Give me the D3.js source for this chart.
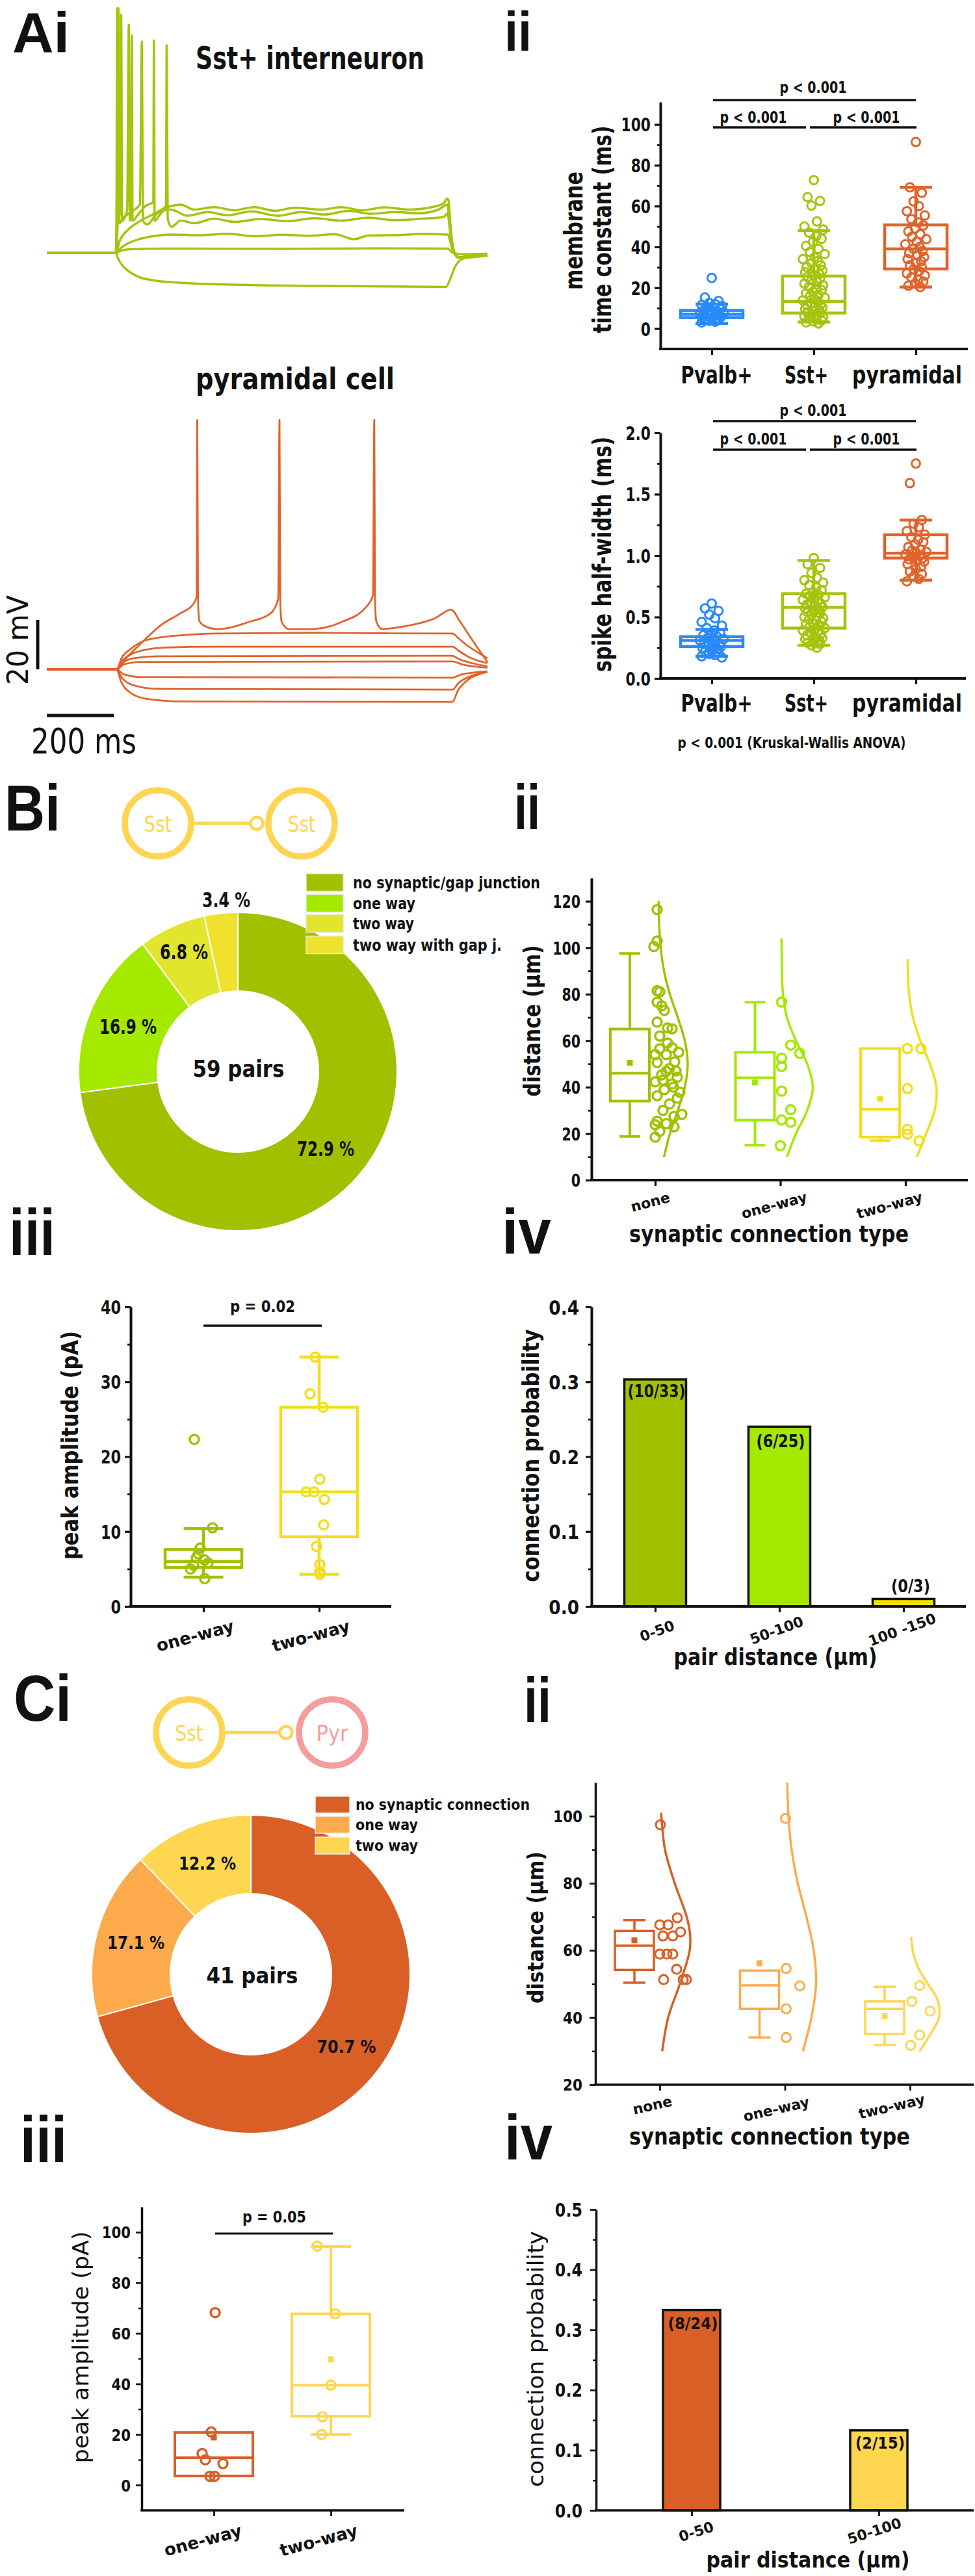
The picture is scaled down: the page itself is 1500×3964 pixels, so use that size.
<!DOCTYPE html>
<html><head><meta charset="utf-8"><title>Figure</title>
<script src="https://cdn.jsdelivr.net/npm/d3@7/dist/d3.min.js"></script>
<style>html,body{margin:0;padding:0;background:#fff}svg{display:block}</style>
</head><body>
<svg id="fig" width="1500" height="3964" xmlns="http://www.w3.org/2000/svg"></svg>
<script>
// ======================= DATA =======================
// Ai : voltage traces, [time (ms), Vm (mV)]
const sstTraces = [
 [[0,-70],[206,-70],[212,-72],[222,-74.5],[240,-77],[270,-79.5],[320,-81.2],[420,-82.3],[600,-83],[900,-83.5],[1192,-83.8],[1205,-80.5],[1218,-76],[1235,-73],[1260,-71.8],[1316,-71.2]],
 [[0,-70],[206,-70],[225,-69],[260,-68.5],[400,-68.3],[700,-68.4],[1000,-68.2],[1198,-68.3],[1210,-69.8],[1240,-70.6],[1316,-70.4]],
 [[0,-70],[206,-70],[222,-68],[245,-66],[275,-64.5],[320,-63.2],[380,-62.6],[450,-62.9],[540,-62.3],[620,-63.3],[700,-62.7],[780,-63.1],[860,-62.5],[918,-64.5],[960,-63],[1050,-62.8],[1120,-62.4],[1198,-62.6],[1206,-66],[1215,-70],[1232,-71.8],[1260,-71.2],[1316,-70.8]],
 [[0,-70],[206,-70],[218,-65],[240,-61],[280,-57],[330,-53.5],[356,-51],[358,14],[361,-56],[372,-59.5],[400,-57],[440,-58],[500,-56.2],[560,-57.5],[640,-56.3],[720,-57.2],[800,-56],[880,-57],[960,-55.8],[1040,-56.8],[1120,-56.2],[1185,-55.5],[1197,-54],[1203,-60],[1212,-68],[1230,-72],[1260,-71.5],[1316,-71]],
 [[0,-70],[206,-70],[212,-56],[214,29],[217,-58],[228,-56],[250,-53.5],[278,-50.5],[284,15.5],[287,-57],[300,-58.5],[330,-54],[370,-52.5],[420,-55],[480,-53.5],[540,-54.8],[610,-53.2],[690,-55],[760,-53.5],[830,-54.5],[900,-53],[970,-54.2],[1040,-53.5],[1110,-54],[1170,-52.5],[1196,-50.5],[1202,-57],[1210,-66],[1225,-71.5],[1250,-72],[1316,-71]],
 [[0,-70],[206,-70],[208,-56],[210,29],[212,-57],[219,-53],[222,26.5],[225,-57],[240,-52.5],[245,22.4],[248,-57],[252,-53],[254,18],[256,-57],[270,-55],[295,-51],[318,-49.5],[320,16],[322,-57],[335,-55],[360,-51.5],[400,-50.5],[440,-52.5],[500,-51.5],[560,-52.8],[620,-51.5],[680,-53],[740,-51.8],[820,-52.5],[880,-51.5],[940,-52.8],[1010,-51.6],[1080,-52.5],[1150,-51.5],[1185,-50],[1196,-48],[1200,-49],[1205,-58],[1212,-67],[1228,-72],[1255,-71.8],[1316,-71]]
];
const pyrTraces = [
 [[0,-70],[208,-70],[240,-65],[277.6,-60],[343.6,-51.8],[397.9,-47.4],[436.7,-43.7],[447.5,-40.5],[449.3,31],[451.5,-40],[453,-47],[456,-50.5],[473.6,-52.6],[510.5,-53.7],[603.6,-50.8],[667.7,-47.4],[691,-41.6],[694.9,31],[697,-40],[698.5,-47],[701.5,-50.8],[724,-53.7],[788,-53.7],[881,-50.8],[955,-44.5],[974,-40],[978,31],[980,-40],[981.5,-47],[984.5,-50.8],[1001.6,-53.7],[1067.5,-52.6],[1160.7,-49.2],[1207,-45.8],[1234.5,-50.8],[1271,-58.2],[1316,-67.1]],
 [[0,-70],[208,-70],[225,-65],[250,-61.8],[290,-58.5],[324,-57.4],[400,-56.2],[510,-55.5],[800,-55.2],[1000,-55.4],[1211,-55.5],[1230,-57.5],[1252,-60],[1285,-63],[1316,-65.5]],
 [[0,-70],[208,-70],[225,-66.5],[250,-64],[290,-62.2],[350,-61.2],[500,-60.8],[1211,-60.8],[1230,-62.5],[1260,-65],[1316,-67.5]],
 [[0,-70],[208,-70],[225,-67.5],[260,-65.5],[330,-64.7],[1211,-64.5],[1230,-65.8],[1270,-67.5],[1316,-68.8]],
 [[0,-70],[208,-70],[230,-68],[280,-67],[1211,-66.8],[1240,-68],[1316,-69.3]],
 [[0,-70],[208,-70],[230,-72],[280,-73.1],[1211,-73.4],[1240,-72],[1316,-70.8]],
 [[0,-70],[208,-70],[225,-73.5],[260,-76.5],[330,-77.9],[1211,-78.2],[1230,-75.5],[1270,-72.5],[1316,-71]],
 [[0,-70],[208,-70],[222,-75],[250,-79.5],[300,-82],[400,-83],[1211,-83.2],[1228,-78.5],[1255,-74.5],[1290,-72],[1316,-71]]
];

// Aii : membrane time constant (ms) and spike half-width (ms)
const cellTypes = ["Pvalb+","Sst+","pyramidal"];
const tauPvalb = [24.8,15.2,13.5,12.5,12,11.5,11,10.5,10,9.6,9.2,8.8,8.5,8.2,8,7.7,7.4,7.1,6.8,6.5,6.2,6,5.7,5.4,5.1,4.8,4.5,4.2,3.8,3.4,3];
const tauSst = [72.7,64.4,62.5,60.3,52.5,50,48.5,47,45.2,44,42.5,40.5,39,37.5,36.5,35,34,33,32,31,30.2,29.4,28.5,27.6,26.8,26,25.2,24.4,23.6,22.8,22,21.2,20.4,19.6,18.8,18,17.2,16.5,15.8,15.1,14.4,13.8,13.2,12.6,12,11.4,10.8,10.2,9.6,9,8.5,8,7.5,7,6.5,6,5.5,5,4.5,4,3.5,3,2.5];
const tauPyr = [91.4,69.2,66.5,62.3,60,57.5,55.4,53.6,52,50.5,49,47.6,46.2,45,43.8,42.5,41.3,40,39,38,37,36,35,34,33,32,31,30,29,28,27,26,25,24,23,22,21,20.3];
const tauBoxes = [{q1:5.4,med:7,q3:8.9,lo:2.5,hi:12},{q1:7.6,med:13.3,q3:25.7,lo:3.2,hi:48},{q1:29.2,med:39,q3:50.8,lo:20.3,hi:69.2}];
const tauTicks = [0,20,40,60,80,100];
const hwPvalb = [0.61,0.57,0.55,0.52,0.49,0.46,0.43,0.41,0.39,0.37,0.36,0.35,0.34,0.33,0.32,0.31,0.31,0.3,0.29,0.28,0.28,0.27,0.26,0.25,0.24,0.23,0.22,0.21,0.2,0.19,0.18,0.17];
const hwSst = [0.98,0.93,0.9,0.86,0.82,0.8,0.78,0.76,0.74,0.72,0.7,0.69,0.68,0.67,0.66,0.65,0.64,0.63,0.62,0.61,0.6,0.59,0.58,0.57,0.56,0.55,0.54,0.53,0.52,0.51,0.5,0.49,0.48,0.47,0.46,0.45,0.44,0.43,0.42,0.41,0.4,0.39,0.38,0.37,0.36,0.35,0.34,0.33,0.32,0.31,0.3,0.29,0.28,0.27,0.25];
const hwPyr = [1.75,1.59,1.29,1.26,1.23,1.2,1.17,1.15,1.13,1.11,1.09,1.07,1.05,1.04,1.03,1.02,1.01,1.0,0.99,0.98,0.97,0.96,0.95,0.93,0.91,0.89,0.87,0.85,0.83,0.81,0.79];
const hwBoxes = [{q1:0.26,med:0.31,q3:0.34,lo:0.18,hi:0.40},{q1:0.41,med:0.58,q3:0.69,lo:0.27,hi:0.96},{q1:0.98,med:1.02,q3:1.17,lo:0.80,hi:1.29}];
const hwTicks = [0,0.5,1,1.5,2];

// Bi : Sst-Sst pairs (%)
const ssPairLabels = ["no synaptic/gap junction","one way","two way","two way with gap j."];
const ssPairPct = [72.9,16.9,6.8,3.4];
const ssPairText = ["72.9 %","16.9 %","6.8 %","3.4 %"];

// Bii : pair distance (µm) by connection type
const connTypes = ["none","one-way","two-way"];
const ssDistNone = [116.4,102.9,100.5,81.5,81,76.6,75,73,68,65.5,65.1,62,59,57,56.5,54,54,50.6,50.9,48,46.8,45.3,44.3,43,42.3,41.4,40,38.9,37.8,36.3,35.3,32.8,30,28.3,27.4,25.4,24.3,23.8,22.9,21,18.5,47,55];
const ssDistOne = [76.6,58.1,54.5,52.5,48.9,38.3,30.3,25.9,24.9,14.8];
const ssDistTwo = [56.6,56.6,39.4,21.8,19.8,16.9];
const ssDistBoxes = [{q1:34,med:46,q3:65,mean:50.5,lo:18.8,hi:97.5},{q1:25.8,med:44,q3:55,mean:42,lo:15,hi:76.5},{q1:18.5,med:30.5,q3:56.6,mean:35,lo:17,hi:56.6}];
// distribution outline: [distance, relative density]
const ssDistCurves = [
 [[10,.19],[20,.39],[30,.66],[40,.90],[50,1],[60,.90],[70,.66],[80,.39],[90,.19],[100,.076],[110,.024],[120,.006]],
 [[10,.17],[20,.46],[30,.82],[40,1],[50,.82],[60,.46],[70,.17],[80,.044],[90,.008],[104,0]],
 [[10,.325],[20,.64],[30,.93],[40,.99],[50,.77],[60,.44],[70,.19],[80,.058],[95,.006]]
];
const distTicksB = [0,20,40,60,80,100,120];

// Biii : peak amplitude (pA)
const ampTypes = ["one-way","two-way"];
const ssAmpOne = [22.3,10.5,7.8,7.0,6.5,6.2,5.8,5.5,5.0,3.7];
const ssAmpTwo = [33.3,28.4,26.6,17,15.3,15.3,14.3,10.9,8.0,5.6,4.6,4.3];
const ssAmpBoxes = [{q1:5.2,med:6.0,q3:7.6,lo:3.9,hi:10.4},{q1:9.3,med:15.3,q3:26.6,lo:4.3,hi:33.3}];
const ampTicksB = [0,10,20,30,40];

// Biv : connection probability by pair distance
const ssBins = ["0-50","50-100","100 -150"];
const ssProb = [0.303,0.24,0.01];
const ssCounts = ["(10/33)","(6/25)","(0/3)"];
const probTicksB = [0,0.1,0.2,0.3,0.4];

// Ci : Sst-Pyr pairs (%)
const spPairLabels = ["no synaptic connection","one way","two way"];
const spPairPct = [70.7,17.1,12.2];
const spPairText = ["70.7 %","17.1 %","12.2 %"];

// Cii : pair distance (µm)
const spDistNone = [69.7,67.6,67.6,65.5,64.3,64.3,58.9,58.9,58.9,54.4,51.3,51.3,51.3,97.4];
const spDistOne = [54.6,49.4,42.6,34.1,99.3];
const spDistTwo = [49.5,44.8,41.9,34.8,31.7];
const spDistBoxes = [{q1:54.2,med:61.4,q3:65.8,mean:63,lo:50.4,hi:69},{q1:42.6,med:49.6,q3:54,mean:56.2,lo:34.1,hi:54},{q1:35.1,med:42.6,q3:44.8,mean:40.4,lo:31.8,hi:49.2}];
const spDistCurves = [
 [[30,.062],[40,.26],[50,.65],[60,.98],[65,.99],[70,.88],[80,.48],[90,.155],[101,.025]],
 [[30,.55],[40,.84],[50,1],[60,.92],[70,.67],[80,.375],[90,.164],[100,.056],[110,.015]],
 [[30,.31],[35,.67],[40,.97],[45,.93],[50,.59],[55,.25],[60,.07],[64,.02]]
];
const distTicksC = [20,40,60,80,100];

// Ciii : peak amplitude (pA)
const spAmpOne = [68.2,21,12.5,10,8.5,3.5,3.5];
const spAmpTwo = [94.5,67.7,39.5,27,20];
const spAmpBoxes = [{q1:3.6,med:10.8,q3:20.8,mean:18.8,lo:3.6,hi:20.8},{q1:27.2,med:39.5,q3:67.7,mean:49.7,lo:20,hi:94.3}];
const ampTicksC = [0,20,40,60,80,100];

// Civ : connection probability
const spBins = ["0-50","50-100"];
const spProb = [0.333,0.133];
const spCounts = ["(8/24)","(2/15)"];
const probTicksC = [0,0.1,0.2,0.3,0.4,0.5];

// ======================= STYLE / LAYOUT =======================
const INK = "#111";
const FONT = "'DejaVu Sans', Verdana, sans-serif";
const FLET = "'Liberation Sans', Arial, Helvetica, sans-serif";
const COL = {
  sst:"#a6c30e", pyr:"#e0632b", pv:"#2a89fb",
  gNone:"#a3c000", gOne:"#a5e800", gTwo:"#f1df1c", gTwoPie:"#e1e52b", gGap:"#f0e12f", gBar3:"#f1e000",
  oNone:"#d95f27", oOne:"#fdaa4c", oTwo:"#fed64f",
  schY:"#fdd552", schP:"#f59c9c"
};
const jitA = [0,-8,8,-3,4,-12,12,-6,3,10,-1,-10,6,-5,14,1,-14,5,-3,9,-9,2,11,-11,7];
const offBNone = [3,3,-2,3,7,3,10,14,3,19,26,7,19,26,7,17,0,3,30,22,17,10,34,12,0,26,28,14,38,3,34,22,12,41,29,3,17,0,29,7,0,32,36];
const offBOne = [2,16,30,2,2,2,16,2,16,0];
const offBTwo = [3,24,3,3,3,21];
const offBiiiOne = [-14,14,-5,-8,-11,2,7,-15,-20,2];
const offBiiiTwo = [-6,-14,6,1,-20,-8,8,7,-4,1,1,1];
const offCNone = [27,0,13,32,5,20,0,11,20,26,6,36,41,1];
const offCOne = [2,23,2,2,1];
const offCTwo = [15,3,31,15,1];
const offCiiiOne = [2,-4,-18,-13,14,-6,1];
const offCiiiTwo = [-21,7,0,-13,-14];

// ======================= HELPERS =======================
const svg = d3.select("#fig");
svg.append("rect").attr("width",1500).attr("height",3964).attr("fill","#fff");

function squeeze(sel, k){
  if (!k || k===1) return;
  sel.each(function(){ const L=this.getComputedTextLength(); this.setAttribute("textLength", L*k); this.setAttribute("lengthAdjust","spacingAndGlyphs"); });
}
function T(s, x, y, size, o={}){
  const t = svg.append("text").attr("x",x).attr("y",y).text(s)
    .attr("font-family", o.f||FONT).attr("font-size", size).attr("font-weight", o.w||700)
    .attr("fill", o.c||INK).attr("text-anchor", o.a||"middle");
  if (o.rot) t.attr("transform", `rotate(${o.rot},${x},${y})`);
  if (o.len) t.attr("textLength", o.len).attr("lengthAdjust","spacingAndGlyphs");
  else if (o.k) squeeze(t, o.k);
  return t;
}
function seg(x1,y1,x2,y2,sw,c){
  return svg.append("line").attr("x1",x1).attr("y1",y1).attr("x2",x2).attr("y2",y2)
    .attr("stroke",c||INK).attr("stroke-width",sw);
}
function yAxis(scale, x, major, minor, fmt, o){
  const g = svg.append("g").attr("transform",`translate(${x},0)`)
    .call(d3.axisLeft(scale).tickValues(major).tickFormat(fmt).tickSizeInner(o.tl||9).tickSizeOuter(0).tickPadding(0));
  g.select(".domain").attr("stroke",INK).attr("stroke-width",o.sw);
  g.selectAll(".tick line").attr("stroke",INK).attr("stroke-width",o.sw*0.8);
  const tx = g.selectAll(".tick text").attr("x",-o.gap).attr("dy","0.36em")
    .attr("font-family",FONT).attr("font-size",o.fs).attr("font-weight",700).attr("fill",INK);
  squeeze(tx, o.k);
  if (minor){
    const m = svg.append("g").attr("transform",`translate(${x},0)`)
      .call(d3.axisLeft(scale).tickValues(minor).tickFormat("").tickSizeInner(5).tickSizeOuter(0));
    m.select(".domain").remove();
    m.selectAll(".tick line").attr("stroke",INK).attr("stroke-width",o.sw*0.7);
  }
}
function xAxis(scale, y, x0, x1, o){
  seg(x0-o.sw/2, y, x1, y, o.sw);
  const g = svg.append("g").attr("transform",`translate(0,${y})`)
    .call(d3.axisBottom(scale).tickSizeInner(o.tl||9).tickSizeOuter(0).tickPadding(0));
  g.select(".domain").remove();
  g.selectAll(".tick line").attr("stroke",INK).attr("stroke-width",o.sw*0.8);
  const tx = g.selectAll(".tick text").attr("y",0).attr("dy",0).attr("text-anchor","middle")
    .attr("font-family",FONT).attr("font-size",o.fs).attr("font-weight",700).attr("fill",INK);
  if (o.lens){
    // condense each label to its measured width with a horizontal scale
    tx.each(function(d,i){
      const k = o.lens[i]/this.getComputedTextLength();
      this.setAttribute("transform",`translate(${o.off[i][0]},${o.off[i][1]}) rotate(${o.rot||0}) scale(${k},1)`);
    });
  } else {
    tx.attr("transform",(d,i)=>`translate(${o.off[i][0]},${o.off[i][1]}) rotate(${o.rot||0})`);
    squeeze(tx, o.k);
  }
}
function box(cx, st, y, o){
  const g = svg.append("g").attr("fill","none").attr("stroke",o.c).attr("stroke-width",o.sw);
  if (st.hi > st.q3){
    g.append("line").attr("x1",cx).attr("x2",cx).attr("y1",y(st.q3)).attr("y2",y(st.hi));
    g.append("line").attr("x1",cx-o.cap/2).attr("x2",cx+o.cap/2).attr("y1",y(st.hi)).attr("y2",y(st.hi));
  }
  if (st.lo < st.q1){
    g.append("line").attr("x1",cx).attr("x2",cx).attr("y1",y(st.q1)).attr("y2",y(st.lo));
    g.append("line").attr("x1",cx-o.cap/2).attr("x2",cx+o.cap/2).attr("y1",y(st.lo)).attr("y2",y(st.lo));
  }
  g.append("rect").attr("x",cx-o.w/2).attr("y",y(st.q3)).attr("width",o.w).attr("height",y(st.q1)-y(st.q3));
  g.append("line").attr("x1",cx-o.w/2).attr("x2",cx+o.w/2).attr("y1",y(st.med)).attr("y2",y(st.med));
  if (st.mean!=null && o.ms){
    svg.append("rect").attr("x",cx-o.ms/2).attr("y",y(st.mean)-o.ms/2).attr("width",o.ms).attr("height",o.ms).attr("fill",o.c);
  }
}
function pts(cx, vals, offs, sc, y, o){
  svg.append("g").selectAll("circle").data(vals).join("circle")
    .attr("cx",(d,i)=>cx+offs[i%offs.length]*sc).attr("cy",d=>y(d)).attr("r",o.r)
    .attr("fill","none").attr("stroke",o.c).attr("stroke-width",o.sw);
}
function halfCurve(cx, data, w, y, o){
  svg.append("path").datum(data)
    .attr("d", d3.line().x(d=>cx+o.base+d[1]*w).y(d=>y(d[0])).curve(d3.curveCatmullRom))
    .attr("fill","none").attr("stroke",o.c).attr("stroke-width",o.sw);
}
function donut(cx, cy, vals, colors){
  const arcs = d3.pie().sort(null)(vals);
  const arc = d3.arc().innerRadius(124).outerRadius(245);
  svg.append("g").attr("transform",`translate(${cx},${cy})`).selectAll("path").data(arcs).join("path")
    .attr("d",arc).attr("fill",(d,i)=>colors[i]).attr("stroke","#fff").attr("stroke-width",2);
}
function schematic(x1, x2, y, c1, c2, l1, l2, lx0, lx1, rx, w1, w2){
  svg.append("circle").attr("cx",x1).attr("cy",y).attr("r",51).attr("fill","none").attr("stroke",c1).attr("stroke-width",9.5);
  svg.append("circle").attr("cx",x2).attr("cy",y).attr("r",51).attr("fill","none").attr("stroke",c2).attr("stroke-width",9.5);
  seg(lx0, y, lx1, y, 5, COL.schY);
  svg.append("circle").attr("cx",rx).attr("cy",y).attr("r",9.5).attr("fill","#fff").attr("stroke",COL.schY).attr("stroke-width",4.5);
  T(l1, x1, y+13, 33, {c:c1, w:400, len:w1});
  T(l2, x2, y+13, 33, {c:c2, w:400, len:w2});
}

// ======================= Ai =======================
T("Ai", 19, 80, 88, {f:FLET, a:"start"});
const xT = d3.scaleLinear().domain([0,1316]).range([72,750]);
const ySst = d3.scaleLinear().domain([-70,30]).range([389,9]);
const yPyr = d3.scaleLinear().domain([-70,30]).range([1030,650]);
svg.append("g").selectAll("path").data(sstTraces).join("path")
  .attr("d", d3.line().x(d=>xT(d[0])).y(d=>ySst(d[1])).curve(d3.curveMonotoneX))
  .attr("fill","none").attr("stroke",COL.sst).attr("stroke-width",3.5).attr("stroke-linejoin","round");
svg.append("g").selectAll("path").data(pyrTraces).join("path")
  .attr("d", d3.line().x(d=>xT(d[0])).y(d=>yPyr(d[1])).curve(d3.curveMonotoneX))
  .attr("fill","none").attr("stroke",COL.pyr).attr("stroke-width",2.8).attr("stroke-linejoin","round");
T("Sst+ interneuron", 301, 106, 48, {a:"start", len:352});
T("pyramidal cell", 301, 599, 46, {a:"start", len:306});
seg(58, yPyr(-70), 58, yPyr(-50), 5);
T("20 mV", 43, 985, 44, {rot:-90, len:138, w:400});
seg(xT(0), 1101, xT(200), 1101, 5);
T("200 ms", 129, 1159, 54, {len:162, w:400});

// ======================= Aii =======================
T("ii", 776, 78, 86, {f:FLET, a:"start", len:42});
const xA = d3.scalePoint().domain(cellTypes).range([1095,1409]);
const aColors = [COL.pv, COL.sst, COL.pyr];
const aJit = [1.3,1.2,1.15];
const aLabOff = (dy)=>[[7,dy],[-12,dy],[-14,dy]];
// time constant
const yTau = d3.scaleLinear().domain([-10,111]).range([537,157]);
yAxis(yTau, 1016, tauTicks, [10,30,50,70,90], d3.format("d"), {sw:4, fs:29, k:0.75, gap:15});
xAxis(xA, 537, 1016, 1489, {sw:4, fs:38, lens:[110,67,169], off:aLabOff(53)});
[tauPvalb, tauSst, tauPyr].forEach((vals,i)=>{
  box(xA(cellTypes[i]), tauBoxes[i], yTau, {c:aColors[i], sw:4.5, w:96, cap:50});
  pts(xA(cellTypes[i]), vals, jitA, aJit[i], yTau, {c:aColors[i], r:6.5, sw:3});
});
seg(1097,154,1409,154,3.5); seg(1097,196,1240,196,3.5); seg(1246,196,1410,196,3.5);
T("p < 0.001", 1251, 143, 25, {len:103});
T("p < 0.001", 1159, 189, 25, {len:103});
T("p < 0.001", 1333, 189, 25, {len:103});
T("membrane", 896, 355, 39, {rot:-90, len:182});
T("time constant (ms)", 940, 353, 39, {rot:-90, len:319});
// spike half-width
const yHw = d3.scaleLinear().domain([0,2]).range([1044,666]);
yAxis(yHw, 1016, hwTicks, [0.25,0.75,1.25,1.75], d3.format(".1f"), {sw:4, fs:29, k:0.75, gap:15});
xAxis(xA, 1044, 1016, 1486, {sw:4, fs:38, lens:[110,67,169], off:aLabOff(51)});
[hwPvalb, hwSst, hwPyr].forEach((vals,i)=>{
  box(xA(cellTypes[i]), hwBoxes[i], yHw, {c:aColors[i], sw:4.5, w:96, cap:50});
  pts(xA(cellTypes[i]), vals, jitA, aJit[i], yHw, {c:aColors[i], r:6.5, sw:3});
});
seg(1097,648,1409,648,3.5); seg(1097,692,1240,692,3.5); seg(1246,692,1410,692,3.5);
T("p < 0.001", 1251, 640, 25, {len:103});
T("p < 0.001", 1159, 684, 25, {len:103});
T("p < 0.001", 1333, 684, 25, {len:103});
T("spike half-width (ms)", 940, 853, 39, {rot:-90, len:362});
T("p < 0.001 (Kruskal-Wallis ANOVA)", 1218, 1151, 23, {len:351});

// ======================= Bi =======================
T("Bi", 7, 1278, 100, {f:FLET, a:"start", len:86});
schematic(243, 464, 1267, COL.schY, COL.schY, "Sst", "Sst", 299, 386, 395, 43, 43);
const bPie = [COL.gNone, COL.gOne, COL.gTwoPie, COL.gGap];
donut(366, 1649, ssPairPct, bPie);
const bLegY = [1358,1390,1421,1454], bLegW = [288,96,94,229];
ssPairLabels.forEach((s,i)=>{
  svg.append("rect").attr("x",471).attr("y",bLegY[i]-13.5).attr("width",57).attr("height",27)
    .attr("fill",bPie[i]).attr("stroke","#e6e6d2").attr("stroke-width",1.5);
  T(s, 543, bLegY[i]+9, 25, {a:"start", len:bLegW[i]});
});
const bPiePos = [[501,1779,88],[197,1591,88],[283,1476,74],[348,1396,74]];
ssPairText.forEach((s,i)=>T(s, bPiePos[i][0], bPiePos[i][1], 32, {len:bPiePos[i][2]}));
T("59 pairs", 367, 1657, 36, {len:141});

// ======================= Bii =======================
T("ii", 791, 1276, 98, {f:FLET, a:"start", len:40});
const xB = d3.scalePoint().domain(connTypes).range([1008,1393]);
const yDistB = d3.scaleLinear().domain([0,130]).range([1816,1351]);
yAxis(yDistB, 910, distTicksB, [10,30,50,70,90,110], d3.format("d"), {sw:4, fs:27, k:0.76, gap:17});
xAxis(xB, 1816, 910, 1489, {sw:4, fs:22, k:1, rot:-15, off:[[-6,41],[-8,46],[-23,46]]});
const bCols = [COL.gNone, COL.gOne, COL.gTwo];
const bDist = [ssDistNone, ssDistOne, ssDistTwo], bOffs = [offBNone, offBOne, offBTwo];
const bCurveBase = [5,2,3], bCurveW = [45,48,45];
connTypes.forEach((c,i)=>{
  const cx = xB(c);
  box(cx-39, ssDistBoxes[i], yDistB, {c:bCols[i], sw:4, w:60, cap:32, ms:9});
  halfCurve(cx, ssDistCurves[i], bCurveW[i], yDistB, {c:bCols[i], sw:3.5, base:bCurveBase[i]});
  pts(cx, bDist[i], bOffs[i], 1, yDistB, {c:bCols[i], r:7, sw:3.5});
});
T("distance (μm)", 831, 1571, 36, {rot:-90, len:233});
T("synaptic connection type", 1183, 1911, 36, {len:430});

// ======================= Biii =======================
T("iii", 14, 1931, 100, {f:FLET, a:"start", len:71});
const xBiii = d3.scalePoint().domain(ampTypes).range([313,491]);
const yAmpB = d3.scaleLinear().domain([0,40]).range([2472,2011]);
yAxis(yAmpB, 201, ampTicksB, [5,15,25,35], d3.format("d"), {sw:4, fs:29, k:0.77, gap:15});
xAxis(xBiii, 2472, 201, 602, {sw:4, fs:26, k:1, rot:-15, off:[[-11,54],[-11,54]]});
const biiiCols = [COL.gNone, COL.gTwo];
[ssAmpOne, ssAmpTwo].forEach((vals,i)=>{
  const cx = xBiii(ampTypes[i]);
  box(cx, ssAmpBoxes[i], yAmpB, {c:biiiCols[i], sw:4.5, w:118, cap:61});
  pts(cx, vals, i===0?offBiiiOne:offBiiiTwo, 1, yAmpB, {c:biiiCols[i], r:7, sw:3.5});
});
seg(313,2040,495,2040,3.5);
T("p = 0.02", 404, 2019, 25, {len:100});
T("peak amplitude (pA)", 120, 2224, 36, {rot:-90, len:352});

// ======================= Biv =======================
T("iv", 772, 1929, 98, {f:FLET, a:"start", len:76});
const xBiv = d3.scalePoint().domain(ssBins).range([1008,1390]);
const yProbB = d3.scaleLinear().domain([0,0.4]).range([2472,2011]);
const bBarCols = [COL.gNone, COL.gOne, COL.gBar3];
svg.append("g").selectAll("rect").data(ssProb).join("rect")
  .attr("x",(d,i)=>xBiv(ssBins[i])-47.5).attr("y",d=>yProbB(d)).attr("width",95)
  .attr("height",d=>yProbB(0)-yProbB(d)).attr("fill",(d,i)=>bBarCols[i]).attr("stroke",INK).attr("stroke-width",3.5);
yAxis(yProbB, 910, probTicksB, [0.05,0.15,0.25,0.35], d3.format(".1f"), {sw:4, fs:31, k:0.85, gap:19});
xAxis(xBiv, 2472, 910, 1486, {sw:4, fs:22, k:1, rot:-20, off:[[5,45],[-2,44],[0,43]]});
const bCntPos = [[2150,89],[2227,75],[2450,60]];
ssCounts.forEach((s,i)=>T(s, xBiv(ssBins[i])+(i===2?11:2), bCntPos[i][0], 27, {len:bCntPos[i][1]}));
T("connection probability", 829, 2240, 36, {rot:-90, len:389});
T("pair distance (μm)", 1193, 2562, 36, {len:313});

// ======================= Ci =======================
T("Ci", 21, 2648, 100, {f:FLET, a:"start", len:89});
schematic(291, 511, 2666, COL.schY, COL.schP, "Sst", "Pyr", 347, 430, 440, 43, 49);
const cPie = [COL.oNone, COL.oOne, COL.oTwo];
donut(386, 3038, spPairPct, cPie);
const cLegY = [2777,2808,2840], cLegW = [268,96,96];
spPairLabels.forEach((s,i)=>{
  svg.append("rect").attr("x",485).attr("y",cLegY[i]-13).attr("width",53).attr("height",26)
    .attr("fill",cPie[i]).attr("stroke","#eeeeee").attr("stroke-width",1.5);
  T(s, 547, cLegY[i]+8, 23, {a:"start", len:cLegW[i]});
});
const cPiePos = [[533,3159,91],[209,2999,88],[319,2877,88]];
spPairText.forEach((s,i)=>T(s, cPiePos[i][0], cPiePos[i][1], 26, {len:cPiePos[i][2]}));
T("41 pairs", 388, 3052, 34, {len:141});

// ======================= Cii =======================
T("ii", 806, 2650, 98, {f:FLET, a:"start", len:42});
const xC = d3.scalePoint().domain(connTypes).range([1015,1400]);
const yDistC = d3.scaleLinear().domain([20,110]).range([3208,2743]);
yAxis(yDistC, 916, distTicksC, [30,50,70,90], d3.format("d"), {sw:3.5, fs:24, k:0.9, gap:20});
xAxis(xC, 3208, 916, 1498, {sw:3.5, fs:22, k:1, rot:-13, off:[[-10,39],[-12,45],[-27,41]]});
const cCols = [COL.oNone, COL.oOne, COL.oTwo];
const cDist = [spDistNone, spDistOne, spDistTwo], cOffs = [offCNone, offCOne, offCTwo];
const cCurveBase = [1,3,1], cCurveW = [46,45,45];
connTypes.forEach((c,i)=>{
  const cx = xC(c);
  box(cx-39, spDistBoxes[i], yDistC, {c:cCols[i], sw:3.5, w:60, cap:34, ms:9});
  halfCurve(cx, spDistCurves[i], cCurveW[i], yDistC, {c:cCols[i], sw:3.5, base:cCurveBase[i]});
  pts(cx, cDist[i], cOffs[i], 1, yDistC, {c:cCols[i], r:7, sw:3});
});
T("distance (μm)", 836, 2966, 34, {rot:-90, len:234});
T("synaptic connection type", 1184, 3300, 36, {len:432});

// ======================= Ciii =======================
T("iii", 31, 3327, 100, {f:FLET, a:"start", len:72});
const xCiii = d3.scalePoint().domain(ampTypes).range([329,509]);
const yAmpC = d3.scaleLinear().domain([-10,110]).range([3863,3396]);
yAxis(yAmpC, 218, ampTicksC, [10,30,50,70,90], d3.format("d"), {sw:3.5, fs:25, k:0.85, gap:17});
xAxis(xCiii, 3863, 218, 622, {sw:3.5, fs:26, k:1, rot:-15, off:[[-15,55],[-17,55]]});
const ciiiCols = [COL.oNone, COL.oTwo];
[spAmpOne, spAmpTwo].forEach((vals,i)=>{
  const cx = xCiii(ampTypes[i]);
  box(cx, spAmpBoxes[i], yAmpC, {c:ciiiCols[i], sw:4, w:120, cap:62, ms:9});
  pts(cx, vals, i===0?offCiiiOne:offCiiiTwo, 1, yAmpC, {c:ciiiCols[i], r:7, sw:3.5});
});
seg(331,3437,512,3437,3);
T("p = 0.05", 422, 3420, 24, {len:98});
T("peak amplitude (pA)", 136, 3612, 34, {rot:-90, len:357, w:400});

// ======================= Civ =======================
T("iv", 776, 3323, 98, {f:FLET, a:"start", len:74});
const xCiv = d3.scalePoint().domain(spBins).range([1064,1352]);
const yProbC = d3.scaleLinear().domain([0,0.5]).range([3863,3400]);
const cBarCols = [COL.oNone, COL.oTwo];
svg.append("g").selectAll("rect").data(spProb).join("rect")
  .attr("x",(d,i)=>xCiv(spBins[i])-44).attr("y",d=>yProbC(d)).attr("width",88)
  .attr("height",d=>yProbC(0)-yProbC(d)).attr("fill",(d,i)=>cBarCols[i]).attr("stroke",INK).attr("stroke-width",3.5);
yAxis(yProbC, 917, probTicksC, [0.05,0.15,0.25,0.35,0.45], d3.format(".1f"), {sw:3.5, fs:28, k:0.85, gap:21});
xAxis(xCiv, 3863, 917, 1498, {sw:3.5, fs:22, k:1, rot:-18, off:[[9,40],[-5,39]]});
const cCntPos = [[3584,77],[3768,76]];
spCounts.forEach((s,i)=>T(s, xCiv(spBins[i])+2, cCntPos[i][0], 24, {len:cCntPos[i][1]}));
T("connection probability", 836, 3630, 34, {rot:-90, len:394, w:400});
T("pair distance (μm)", 1243, 3951, 34, {len:313});
</script>
</body></html>
